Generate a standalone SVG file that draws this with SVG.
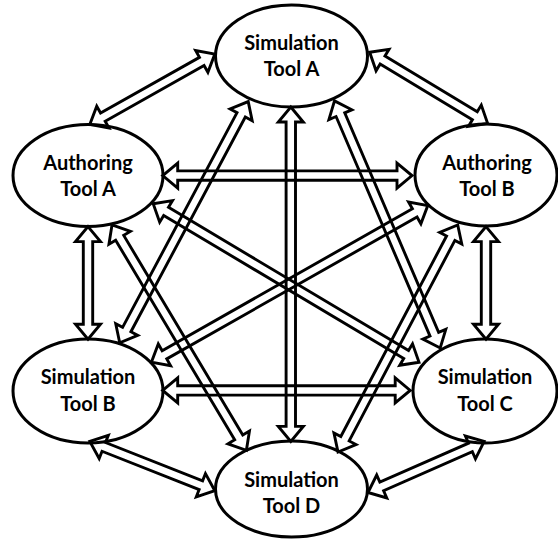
<svg xmlns="http://www.w3.org/2000/svg" width="558" height="540" viewBox="0 0 558 540">
  <style>
    .node ellipse { fill: #ffffff; stroke: #000000; stroke-width: 3; }
    .node text { font-family: "Lato", "Open Sans", "Liberation Sans", sans-serif; font-weight: 700; font-size: 20px; fill: #000000; text-anchor: middle; }
    .arrow { fill: none; stroke: #000000; stroke-width: 2.9; stroke-linejoin: miter; }
  </style>
  <rect width="558" height="540" fill="#ffffff"/>

  <g id="sim-a" class="node">
    <ellipse cx="291.5" cy="56" rx="76" ry="51"/>
    <text x="291.5" y="50">Simulation</text>
    <text x="291.5" y="76">Tool A</text>
  </g>
  <g id="auth-a" class="node">
    <ellipse cx="88" cy="175.5" rx="75" ry="51"/>
    <text x="88" y="170">Authoring</text>
    <text x="88" y="196">Tool A</text>
  </g>
  <g id="auth-b" class="node">
    <ellipse cx="486" cy="175" rx="71" ry="51"/>
    <text x="487" y="170">Authoring</text>
    <text x="487" y="196">Tool B</text>
  </g>
  <g id="sim-b" class="node">
    <ellipse cx="88" cy="391" rx="75" ry="52"/>
    <text x="88" y="384">Simulation</text>
    <text x="88" y="411">Tool B</text>
  </g>
  <g id="sim-c" class="node">
    <ellipse cx="485" cy="391" rx="72" ry="52"/>
    <text x="485" y="384">Simulation</text>
    <text x="485" y="411">Tool C</text>
  </g>
  <g id="sim-d" class="node">
    <ellipse cx="291.5" cy="489" rx="76" ry="48"/>
    <text x="291.5" y="487">Simulation</text>
    <text x="291.5" y="513">Tool D</text>
  </g>

  <!-- double-headed block arrows; each drawn along +x from its first tip, then placed -->
  <g id="connectors" class="arrow">
    <!-- Authoring Tool A <-> Simulation Tool A -->
    <path transform="translate(89.8,124.5) rotate(-29.39)" d="M0,0 L15,-12.5 L15,-4.7 L128.5,-4.7 L128.5,-12.5 L143.5,0 L128.5,12.5 L128.5,4.7 L15,4.7 L15,12.5 Z"/>
    <!-- Simulation Tool A <-> Authoring Tool B -->
    <path transform="translate(369.7,52.3) rotate(31.11)" d="M0,0 L15,-12.5 L15,-4.7 L122.8,-4.7 L122.8,-12.5 L137.8,0 L122.8,12.5 L122.8,4.7 L15,4.7 L15,12.5 Z"/>
    <!-- Authoring Tool A <-> Authoring Tool B -->
    <path transform="translate(162.7,175.6)" d="M0,0 L15,-12.5 L15,-4.7 L234.3,-4.7 L234.3,-12.5 L249.3,0 L234.3,12.5 L234.3,4.7 L15,4.7 L15,12.5 Z"/>
    <!-- Simulation Tool B <-> Simulation Tool C -->
    <path transform="translate(162.7,390.4)" d="M0,0 L15,-12.5 L15,-4.7 L232.5,-4.7 L232.5,-12.5 L247.5,0 L232.5,12.5 L232.5,4.7 L15,4.7 L15,12.5 Z"/>
    <!-- Authoring Tool A <-> Simulation Tool B -->
    <path transform="translate(88,226.6) rotate(90)" d="M0,0 L15,-12.5 L15,-4.7 L97.7,-4.7 L97.7,-12.5 L112.7,0 L97.7,12.5 L97.7,4.7 L15,4.7 L15,12.5 Z"/>
    <!-- Authoring Tool B <-> Simulation Tool C -->
    <path transform="translate(486,226.6) rotate(90)" d="M0,0 L15,-12.5 L15,-4.7 L97.7,-4.7 L97.7,-12.5 L112.7,0 L97.7,12.5 L97.7,4.7 L15,4.7 L15,12.5 Z"/>
    <!-- Simulation Tool A <-> Simulation Tool D -->
    <path transform="translate(290.8,107) rotate(90)" d="M0,0 L15,-12.5 L15,-4.7 L319.4,-4.7 L319.4,-12.5 L334.4,0 L319.4,12.5 L319.4,4.7 L15,4.7 L15,12.5 Z"/>
    <!-- Simulation Tool B <-> Simulation Tool A -->
    <path transform="translate(119.7,342.8) rotate(-61.95)" d="M0,0 L15,-12.5 L15,-4.7 L258.3,-4.7 L258.3,-12.5 L273.3,0 L258.3,12.5 L258.3,4.7 L15,4.7 L15,12.5 Z"/>
    <!-- Simulation Tool A <-> Simulation Tool C -->
    <path transform="translate(334.5,100.9) rotate(66.84)" d="M0,0 L15,-12.5 L15,-4.7 L253.8,-4.7 L253.8,-12.5 L268.8,0 L253.8,12.5 L253.8,4.7 L15,4.7 L15,12.5 Z"/>
    <!-- Authoring Tool A <-> Simulation Tool D -->
    <path transform="translate(112,224.9) rotate(59.19)" d="M0,0 L15,-12.5 L15,-4.7 L247.4,-4.7 L247.4,-12.5 L262.4,0 L247.4,12.5 L247.4,4.7 L15,4.7 L15,12.5 Z"/>
    <!-- Simulation Tool D <-> Authoring Tool B -->
    <path transform="translate(338,452) rotate(-62.2)" d="M0,0 L15,-12.5 L15,-4.7 L241.7,-4.7 L241.7,-12.5 L256.7,0 L241.7,12.5 L241.7,4.7 L15,4.7 L15,12.5 Z"/>
    <!-- Authoring Tool A <-> Simulation Tool C -->
    <path transform="translate(153.2,203.7) rotate(30.81)" d="M0,0 L15,-12.5 L15,-4.7 L294.5,-4.7 L294.5,-12.5 L309.5,0 L294.5,12.5 L294.5,4.7 L15,4.7 L15,12.5 Z"/>
    <!-- Simulation Tool B <-> Authoring Tool B -->
    <path transform="translate(151.4,362.2) rotate(-29.55)" d="M0,0 L15,-12.5 L15,-4.7 L302.7,-4.7 L302.7,-12.5 L317.7,0 L302.7,12.5 L302.7,4.7 L15,4.7 L15,12.5 Z"/>
    <!-- Simulation Tool B <-> Simulation Tool D -->
    <path transform="translate(89.8,441.4) rotate(21.52)" d="M0,0 L15,-12.5 L15,-4.7 L119.4,-4.7 L119.4,-12.5 L134.4,0 L119.4,12.5 L119.4,4.7 L15,4.7 L15,12.5 Z"/>
    <!-- Simulation Tool D <-> Simulation Tool C -->
    <path transform="translate(368,492.5) rotate(-23.74)" d="M0,0 L15,-12.5 L15,-4.7 L111.9,-4.7 L111.9,-12.5 L126.9,0 L111.9,12.5 L111.9,4.7 L15,4.7 L15,12.5 Z"/>
  </g>
</svg>
